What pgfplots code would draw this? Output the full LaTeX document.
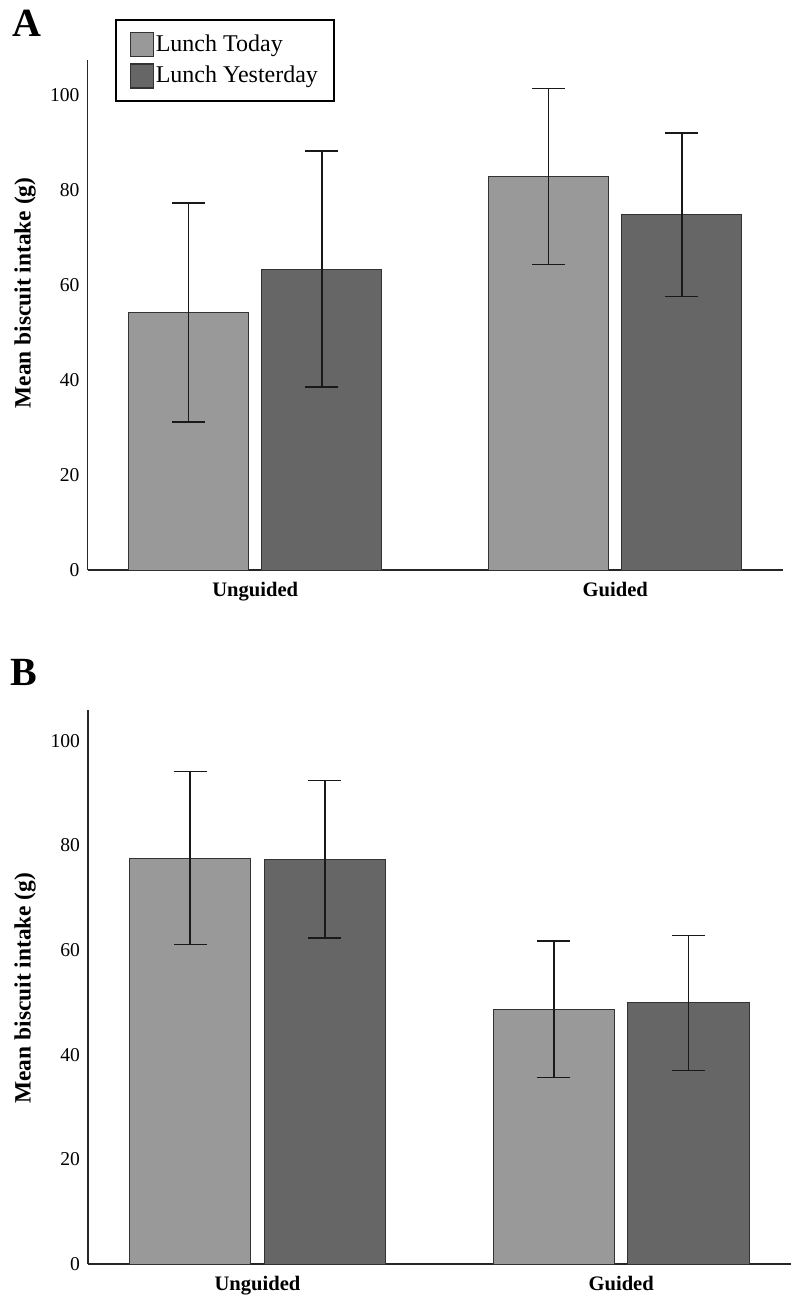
\documentclass[border=0pt]{standalone}
\usepackage{fontspec}
\setmainfont{Liberation Serif}
\usepackage{pgfplots}
\usepackage{pgfplotstable}
\pgfplotsset{compat=1.18}
\definecolor{todayc}{HTML}{999999}
\definecolor{yestc}{HTML}{666666}
\definecolor{edgec}{HTML}{333333}

\pgfplotstableread{
x y e
-0.185 54.25 23.05
0.815 82.85 18.55
}\Atoday
\pgfplotstableread{
x y e
0.185 63.35 24.85
1.185 74.80 17.20
}\Ayest
\pgfplotstableread{
x y e
-0.185 77.60 16.50
0.815 48.70 13.00
}\Btoday
\pgfplotstableread{
x y e
0.185 77.35 15.05
1.185 49.90 12.90
}\Byest

\pgfplotsset{
  myaxis/.style={
    scale only axis,
    axis lines=left,
    axis line style={-, line width=0.75pt, black!85},
    xmin=-0.466, xmax=1.466, ymin=0,
    xtick={0,1}, xticklabels={Unguided,Guided},
    ytick={0,20,40,60,80,100},
    major tick length=0pt,
    /pgf/number format/assume math mode=true,
    yticklabel style={font=\fontsize{9.8}{11}\selectfont, xshift=-0.5pt},
    xticklabel style={font=\fontsize{10.3}{12}\selectfont\bfseries, yshift=-2.5pt},
    ylabel={Mean biscuit intake (g)},
    clip=false,
  },
  barT/.style={ybar, bar width=0.333, bar shift=0pt, fill=todayc, draw=edgec, line width=0.5pt,
    legend image code/.code={\draw[fill=todayc, draw=edgec, line width=0.6pt] (0pt,-6pt) rectangle (11.3pt,6pt);},
    error bars/.cd, y dir=both, y explicit,
    error bar style={line width=0.75pt, black!90},
    error mark options={rotate=90, line width=0.75pt, black!90, mark size=8.25pt}},
  barY/.style={ybar, bar width=0.333, bar shift=0pt, fill=yestc, draw=edgec, line width=0.5pt,
    legend image code/.code={\draw[fill=yestc, draw=edgec, line width=0.6pt] (0pt,-6pt) rectangle (11.3pt,6pt);},
    error bars/.cd, y dir=both, y explicit,
    error bar style={line width=0.75pt, black!90},
    error mark options={rotate=90, line width=0.75pt, black!90, mark size=8.25pt}},
}

\begin{document}
\begin{tikzpicture}
\useasboundingbox (0pt,0pt) rectangle (400pt,-651.5pt);

% Panel A
\begin{axis}[myaxis,
  at={(43.75pt,-285pt)}, anchor=south west,
  width=347.75pt, height=255pt,
  ymax=107.4,
  every axis y label/.style={at={(rel axis cs:0,0.543)}, xshift=-31.25pt, rotate=90, anchor=center,
     font=\fontsize{11.7}{13}\selectfont\bfseries},
  legend style={at={(rel axis cs:0.0395,1.080)}, anchor=north west,
     draw=black, line width=1pt, fill=white,
     font=\fontsize{12}{14}\selectfont,
     inner xsep=7pt, inner ysep=6pt, row sep=3pt,
     nodes={inner sep=1pt, text depth=0.15em}},
  legend cell align=left,
]
\addplot[barT] table[x=x, y=y, y error=e] {\Atoday};
\addlegendentry{Lunch Today}
\addplot[barY] table[x=x, y=y, y error=e] {\Ayest};
\addlegendentry{Lunch Yesterday}
\end{axis}

% Panel B
\begin{axis}[myaxis,
  at={(44pt,-632pt)}, anchor=south west,
  width=351.35pt, height=277pt,
  ymax=105.9,
  every axis y label/.style={at={(rel axis cs:0,0.498)}, xshift=-31.5pt, rotate=90, anchor=center,
     font=\fontsize{11.7}{13}\selectfont\bfseries},
]
\addplot[barT] table[x=x, y=y, y error=e] {\Btoday};
\addplot[barY] table[x=x, y=y, y error=e] {\Byest};
\end{axis}

\node[anchor=north west, inner sep=0pt, font=\fontsize{20}{22}\selectfont\bfseries] at (6pt,-5pt) {A};
\node[anchor=north west, inner sep=0pt, font=\fontsize{20}{22}\selectfont\bfseries] at (5pt,-329.5pt) {B};
\end{tikzpicture}
\end{document}
